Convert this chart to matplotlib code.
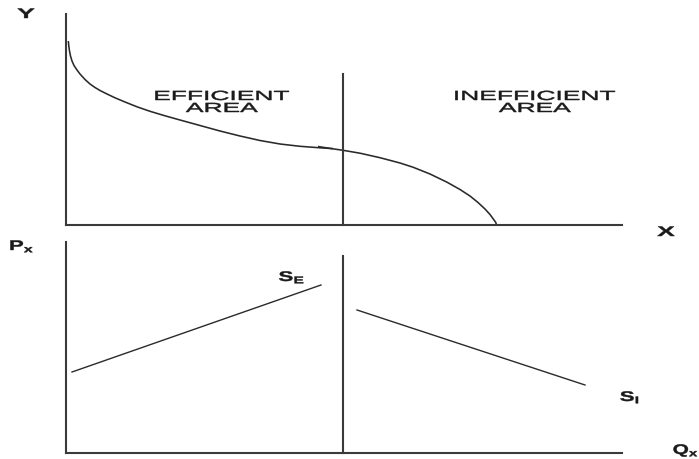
import matplotlib
matplotlib.use("Agg")
import matplotlib.pyplot as plt
from matplotlib import patheffects
from matplotlib.transforms import Affine2D

plt.rcParams['font.family'] = ['Liberation Sans', 'DejaVu Sans']
plt.rcParams['mathtext.fontset'] = 'custom'
plt.rcParams['mathtext.rm'] = 'Liberation Sans'
plt.rcParams['mathtext.bf'] = 'Liberation Sans:bold'

# ---------------- data (axis units) ----------------
# upper panel curve, drawn in two overlapping pieces
curve1_x = [2.3, 2.8, 3.5, 4.5, 6, 8, 11, 14, 19, 24, 29, 34, 41, 49, 59, 71, 84,
            99, 114, 134, 154, 174, 194, 214, 234, 254, 267]
curve1_y = [184, 179, 174, 169, 164, 159.5, 155, 151, 145.5, 141, 137.5, 134.5, 131,
            127.2, 123, 118.2, 113.7, 109.2, 105, 99.5, 94, 89, 84.5, 81, 78.7, 77.2, 76.4]
curve2_x = [252, 264, 277, 294, 314, 334, 347, 364, 381, 394, 404, 412, 419, 424, 428, 429.8, 430.5]
curve2_y = [78.5, 76.6, 74.7, 71.8, 67.3, 62, 57.8, 51, 42.8, 35.5, 29, 22.5, 16, 10.5, 5, 2.5, 0]
divider_x = 277
divider_top_upper = 151
divider_top_lower = 197

# lower panel supply lines
se_x = [6, 255]
se_y = [81, 168]
si_x = [291, 519]
si_y = [143, 68]

area_labels = [("EFFICIENT", "AREA"), ("INEFFICIENT", "AREA")]
axis_labels = ["Y", "X", r"$\mathbf{P}_{\mathbf{x}}$", r"$\mathbf{Q}_{\mathbf{x}}$"]
supply_labels = [r"$\mathbf{S}_{\mathbf{E}}$", r"$\mathbf{S}_{\mathbf{I}}$"]


class HStretch(patheffects.AbstractPathEffect):
    """Draw text horizontally stretched about its own centre (optionally emboldened)."""
    def __init__(self, s, stroke=0.0):
        super().__init__()
        self.s = s
        self.stroke = stroke

    def draw_path(self, renderer, gc, tpath, affine, rgbFace=None):
        ext = tpath.get_extents()
        cx = (ext.x0 + ext.x1) / 2.0
        t = Affine2D().translate(-cx, 0).scale(self.s, 1.0).translate(cx, 0) + affine
        gc0 = renderer.new_gc()
        gc0.copy_properties(gc)
        gc0.set_linewidth(self.stroke)
        if rgbFace is not None:
            gc0.set_foreground(rgbFace)
        renderer.draw_path(gc0, tpath, t, rgbFace)
        gc0.restore()


W, H = 699, 460
fig = plt.figure(figsize=(W / 100, H / 100), dpi=100)
fig.patch.set_facecolor("white")

AX_COL = "#3a3a3a"
LN_COL = "#2a2a2a"

ax_top = fig.add_axes([66 / W, 1 - 226 / H, 556 / W, 211 / H])
ax_bot = fig.add_axes([66 / W, 1 - 454 / H, 556 / W, 211 / H])
for ax in (ax_top, ax_bot):
    ax.set_xlim(0, 556)
    ax.set_ylim(0, 211)
    ax.set_facecolor("none")
    for s in ("top", "right"):
        ax.spines[s].set_visible(False)
    for s in ("left", "bottom"):
        ax.spines[s].set_color(AX_COL)
        ax.spines[s].set_linewidth(1.5)
    ax.set_xticks([])
    ax.set_yticks([])

ax_top.plot(curve1_x, curve1_y, color=LN_COL, lw=1.15, clip_on=False, solid_capstyle="butt")
ax_top.plot(curve2_x, curve2_y, color=LN_COL, lw=1.15, clip_on=False, solid_capstyle="butt")
ax_top.plot([divider_x, divider_x], [0, divider_top_upper], color=AX_COL, lw=1.5, clip_on=False)
ax_bot.plot([divider_x, divider_x], [0, divider_top_lower], color=AX_COL, lw=1.5, clip_on=False)

ax_bot.plot(se_x, se_y, color=LN_COL, lw=1.0, clip_on=False)
ax_bot.plot(si_x, si_y, color=LN_COL, lw=1.0, clip_on=False)


def ftext(px, py, s, size, stretch, stroke=0.0, bold=False):
    fig.text(px / W, 1 - py / H, s, fontsize=size, ha="center", va="baseline",
             fontweight="bold" if bold else "normal", color="#1a1a1a",
             path_effects=[HStretch(stretch, stroke)])


# area labels
ftext(222, 101, area_labels[0][0], 9.5, 2.0, 0.35)
ftext(222, 113, area_labels[0][1], 9.5, 2.0, 0.35)
ftext(535, 101, area_labels[1][0], 9.5, 2.0, 0.35)
ftext(535, 113, area_labels[1][1], 9.5, 2.0, 0.35)

# axis labels
ftext(26, 19, axis_labels[0], 10, 1.9, 0.3, bold=True)
ftext(666, 237, axis_labels[1], 10, 1.9, 0.3, bold=True)
ftext(22, 251, axis_labels[2], 10, 1.6, 0.3)
ftext(686, 455, axis_labels[3], 10, 1.5, 0.3)

# supply labels
ftext(292, 282, supply_labels[0], 10, 1.6, 0.3)
ftext(630, 402, supply_labels[1], 10, 1.6, 0.3)

fig.savefig("out.png", dpi=100)
